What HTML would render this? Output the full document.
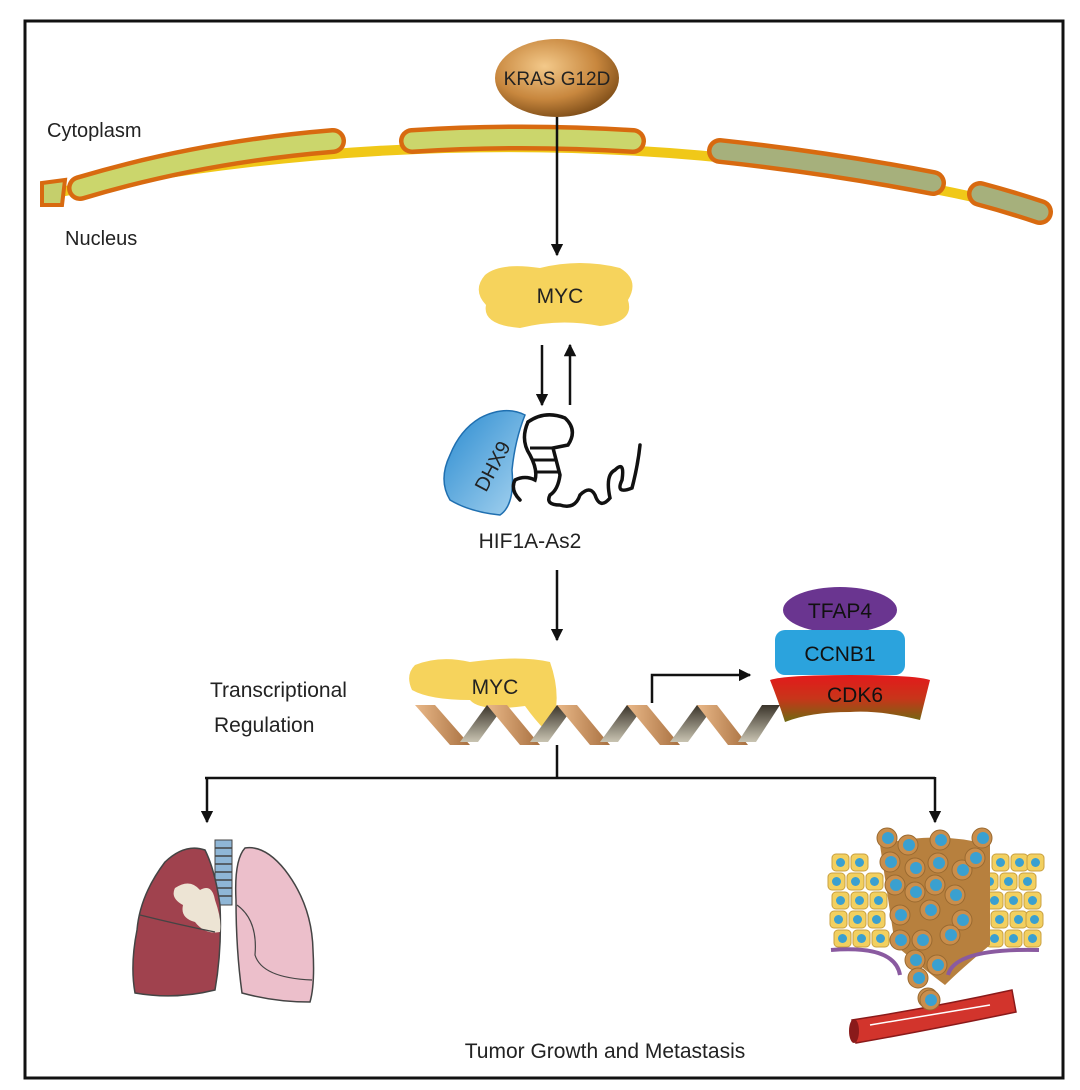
<!DOCTYPE html>
<html><head><meta charset="utf-8"><style>
html,body{margin:0;padding:0;background:#fff;}
svg{display:block;font-family:"Liberation Sans",Arial,sans-serif;}
</style></head><body>
<svg width="1080" height="1090" viewBox="0 0 1080 1090" xmlns="http://www.w3.org/2000/svg">
<defs>
<radialGradient id="kras" cx="0.4" cy="0.35" r="0.7"><stop offset="0" stop-color="#f3c98a"/><stop offset="0.6" stop-color="#c8873e"/><stop offset="1" stop-color="#7a4a16"/></radialGradient>
<linearGradient id="cdk" x1="0" y1="0" x2="0" y2="1"><stop offset="0" stop-color="#e3191b"/><stop offset="0.5" stop-color="#c8351a"/><stop offset="1" stop-color="#6e6a12"/></linearGradient>
<linearGradient id="dhx" x1="0" y1="0" x2="1" y2="1"><stop offset="0" stop-color="#2a8bd0"/><stop offset="1" stop-color="#a8d4f0"/></linearGradient>
<linearGradient id="rib1" x1="0" y1="0" x2="1" y2="0"><stop offset="0" stop-color="#e9b888"/><stop offset="1" stop-color="#a87040"/></linearGradient>
<linearGradient id="rib2" x1="0" y1="0" x2="0" y2="1"><stop offset="0" stop-color="#3a342a"/><stop offset="1" stop-color="#c9c4b2"/></linearGradient>
<marker id="ah" viewBox="0 0 10 10" refX="9" refY="5" markerWidth="5" markerHeight="5" orient="auto"><path d="M0,0 L10,5 L0,10 z" fill="#111"/></marker>
<g id="yc"><rect x="-8" y="-8" width="17" height="17" rx="4" fill="#f2d060" stroke="#c9a040" stroke-width="1"/><circle cx="0.5" cy="0.5" r="4.5" fill="#3aa0d0"/></g>
<g id="cc"><circle r="10" fill="#c98e4c" stroke="#9a6a30" stroke-width="1"/><circle cx="1" cy="0" r="6" fill="#3aa0d0"/></g>
</defs>
<rect x="25" y="21" width="1038" height="1057" fill="none" stroke="#111" stroke-width="3"/>

<!-- membrane -->
<path d="M45,195 Q557,90 1050,215" fill="none" stroke="#f0c818" stroke-width="10"/>
<g fill="none" stroke-linecap="round">
<path d="M80,188 Q200,152 333,141 M412,141 Q520,134 633,141 M720,151 Q830,163 933,183 M980,194 Q1010,202 1040,212" stroke="#d86a10" stroke-width="26"/>
<path d="M80,188 Q200,152 333,141 M412,141 Q520,134 633,141" stroke="#cbd66c" stroke-width="17"/>
<path d="M720,151 Q830,163 933,183 M980,194 Q1010,202 1040,212" stroke="#a6b07c" stroke-width="17"/>
</g>
<path d="M42,183 L65,180 L62,205 L42,205 Z" fill="#c5cf6c" stroke="#d86a10" stroke-width="4"/>
<text x="47" y="137" font-size="20" fill="#222">Cytoplasm</text>
<text x="65" y="245" font-size="20" fill="#222">Nucleus</text>

<ellipse cx="557" cy="78" rx="62" ry="39" fill="url(#kras)"/>
<text x="557" y="85" font-size="19" text-anchor="middle" fill="#222">KRAS G12D</text>
<line x1="557" y1="117" x2="557" y2="255" stroke="#111" stroke-width="2.5" marker-end="url(#ah)"/>

<!-- MYC 1 -->
<path d="M485,275 Q500,262 540,268 Q580,258 620,268 Q640,280 628,300 Q635,322 600,326 Q560,318 520,328 Q482,325 486,305 Q472,290 485,275 Z" fill="#f6d35c"/>
<text x="560" y="303" font-size="21" text-anchor="middle" fill="#222">MYC</text>
<line x1="542" y1="345" x2="542" y2="405" stroke="#111" stroke-width="2.5" marker-end="url(#ah)"/>
<line x1="570" y1="405" x2="570" y2="345" stroke="#111" stroke-width="2.5" marker-end="url(#ah)"/>

<!-- DHX9 + RNA -->
<path d="M480,418 Q505,405 525,415 Q515,440 512,470 Q515,505 500,515 Q470,512 450,500 Q438,480 450,455 Q460,430 480,418 Z" fill="url(#dhx)" stroke="#1f6fb0" stroke-width="1.5"/>
<text x="0" y="0" font-size="20" fill="#222" transform="translate(486,493) rotate(-62)">DHX9</text>
<path d="M528,422 Q545,410 565,418 Q578,430 568,445 L553,448 L560,475 Q558,490 550,495 Q545,505 560,505 Q575,510 580,495 Q590,485 595,495 Q600,510 610,498 Q605,475 615,470 Q625,460 622,480 Q615,495 632,488 Q638,465 640,445" fill="none" stroke="#111" stroke-width="3.5" stroke-linecap="round"/>
<path d="M528,422 Q520,440 530,455 Q538,470 535,480 Q525,475 515,480 Q510,490 520,500" fill="none" stroke="#111" stroke-width="3.5" stroke-linecap="round"/>
<g stroke="#111" stroke-width="3"><line x1="530" y1="448" x2="553" y2="448"/><line x1="533" y1="460" x2="556" y2="460"/><line x1="535" y1="472" x2="558" y2="472"/></g>
<text x="530" y="548" font-size="21" text-anchor="middle" fill="#222">HIF1A-As2</text>
<line x1="557" y1="570" x2="557" y2="640" stroke="#111" stroke-width="2.5" marker-end="url(#ah)"/>

<!-- MYC 2 -->
<path d="M415,665 Q440,655 470,662 Q520,655 550,662 Q560,690 555,715 Q555,735 545,730 Q535,720 525,706 Q480,712 470,700 Q430,700 412,690 Q405,675 415,665 Z" fill="#f6d35c"/>
<text x="495" y="694" font-size="21" text-anchor="middle" fill="#222">MYC</text>
<text x="210" y="697" font-size="21" fill="#222">Transcriptional</text>
<text x="214" y="732" font-size="21" fill="#222">Regulation</text>

<!-- DNA -->
<g>
<path d="M415,705 L435,705 L470,745 L450,745 Z" fill="url(#rib1)"/>
<path d="M460,742 L478,742 L505,705 L487,705 Z" fill="url(#rib2)"/>
<path d="M487,705 L507,705 L540,745 L520,745 Z" fill="url(#rib1)"/>
<path d="M530,742 L548,742 L575,705 L557,705 Z" fill="url(#rib2)"/>
<path d="M557,705 L577,705 L610,745 L590,745 Z" fill="url(#rib1)"/>
<path d="M600,742 L618,742 L645,705 L627,705 Z" fill="url(#rib2)"/>
<path d="M627,705 L647,705 L680,745 L660,745 Z" fill="url(#rib1)"/>
<path d="M670,742 L688,742 L715,705 L697,705 Z" fill="url(#rib2)"/>
<path d="M697,705 L717,705 L748,745 L728,745 Z" fill="url(#rib1)"/>
<path d="M738,742 L756,742 L780,705 L762,705 Z" fill="url(#rib2)"/>
</g>
<polyline points="652,703 652,675 750,675" fill="none" stroke="#111" stroke-width="2.5" marker-end="url(#ah)"/>

<ellipse cx="840" cy="610" rx="57" ry="23" fill="#6a3590"/>
<text x="840" y="618" font-size="21" text-anchor="middle" fill="#111">TFAP4</text>
<rect x="775" y="630" width="130" height="45" rx="10" fill="#2ba3dd"/>
<text x="840" y="661" font-size="21" text-anchor="middle" fill="#111">CCNB1</text>
<path d="M770,680 Q785,675 850,675 Q915,675 930,680 Q925,700 920,720 Q880,710 850,712 Q810,712 785,722 Q778,700 770,680 Z" fill="url(#cdk)"/>
<text x="855" y="702" font-size="21" text-anchor="middle" fill="#111">CDK6</text>

<!-- branches -->
<line x1="557" y1="745" x2="557" y2="778" stroke="#111" stroke-width="2.5"/>
<line x1="205" y1="778" x2="935" y2="778" stroke="#111" stroke-width="2.5"/>
<line x1="207" y1="777" x2="207" y2="822" stroke="#111" stroke-width="2.5" marker-end="url(#ah)"/>
<line x1="935" y1="777" x2="935" y2="822" stroke="#111" stroke-width="2.5" marker-end="url(#ah)"/>

<!-- lungs -->
<rect x="215" y="840" width="17" height="65" fill="#8fb6d6" stroke="#444" stroke-width="1"/>
<g stroke="#444" stroke-width="1.5"><line x1="215" y1="848" x2="232" y2="848"/><line x1="215" y1="856" x2="232" y2="856"/><line x1="215" y1="864" x2="232" y2="864"/><line x1="215" y1="872" x2="232" y2="872"/><line x1="215" y1="880" x2="232" y2="880"/><line x1="215" y1="888" x2="232" y2="888"/><line x1="215" y1="896" x2="232" y2="896"/></g>
<path d="M205,850 Q185,843 165,862 Q140,895 137,930 Q130,965 135,993 Q175,1000 215,990 Q222,950 220,905 Q215,870 205,850 Z" fill="#a0424e" stroke="#444" stroke-width="1.5"/>
<path d="M245,848 Q265,845 285,870 Q312,905 313,950 Q315,985 310,1002 Q275,1002 242,993 Q236,950 236,900 Q234,860 245,848 Z" fill="#ecbfcb" stroke="#444" stroke-width="1.5"/>
<path d="M175,888 Q190,878 200,890 Q212,883 215,900 Q222,920 220,932 Q205,935 195,922 Q180,918 183,905 Q170,898 175,888 Z" fill="#ede4d4"/>
<path d="M140,915 Q180,925 215,932" fill="none" stroke="#444" stroke-width="1.2"/>
<path d="M237,905 Q258,920 255,955 Q262,978 312,980" fill="none" stroke="#444" stroke-width="1.2"/>

<!-- tissue -->
<g>
<use href="#yc" x="840" y="862"/><use href="#yc" x="859" y="862"/><use href="#yc" x="1000" y="862"/><use href="#yc" x="1019" y="862"/><use href="#yc" x="1035" y="862"/>
<use href="#yc" x="836" y="881"/><use href="#yc" x="855" y="881"/><use href="#yc" x="874" y="881"/><use href="#yc" x="970" y="881"/><use href="#yc" x="989" y="881"/><use href="#yc" x="1008" y="881"/><use href="#yc" x="1027" y="881"/>
<use href="#yc" x="840" y="900"/><use href="#yc" x="859" y="900"/><use href="#yc" x="878" y="900"/><use href="#yc" x="975" y="900"/><use href="#yc" x="994" y="900"/><use href="#yc" x="1013" y="900"/><use href="#yc" x="1032" y="900"/>
<use href="#yc" x="838" y="919"/><use href="#yc" x="857" y="919"/><use href="#yc" x="876" y="919"/><use href="#yc" x="980" y="919"/><use href="#yc" x="999" y="919"/><use href="#yc" x="1018" y="919"/><use href="#yc" x="1034" y="919"/>
<use href="#yc" x="842" y="938"/><use href="#yc" x="861" y="938"/><use href="#yc" x="880" y="938"/><use href="#yc" x="975" y="938"/><use href="#yc" x="994" y="938"/><use href="#yc" x="1013" y="938"/><use href="#yc" x="1032" y="938"/>
</g>
<path d="M880,845 Q935,830 990,845 L990,945 Q960,970 945,985 Q925,970 895,945 Z" fill="#b7803e"/>
<g>
<use href="#cc" x="887" y="838"/><use href="#cc" x="908" y="845"/><use href="#cc" x="940" y="840"/><use href="#cc" x="982" y="838"/>
<use href="#cc" x="890" y="862"/><use href="#cc" x="915" y="868"/><use href="#cc" x="938" y="863"/><use href="#cc" x="962" y="870"/><use href="#cc" x="975" y="858"/>
<use href="#cc" x="895" y="885"/><use href="#cc" x="915" y="892"/><use href="#cc" x="935" y="885"/><use href="#cc" x="955" y="895"/>
<use href="#cc" x="900" y="915"/><use href="#cc" x="930" y="910"/><use href="#cc" x="962" y="920"/>
<use href="#cc" x="900" y="940"/><use href="#cc" x="922" y="940"/><use href="#cc" x="950" y="935"/>
<use href="#cc" x="915" y="960"/><use href="#cc" x="937" y="965"/><use href="#cc" x="918" y="978"/><use href="#cc" x="928" y="998"/>
</g>
<path d="M831,950 Q895,945 900,975 M948,975 Q955,948 1039,950" fill="none" stroke="#8a5aa0" stroke-width="4"/>
<path d="M852,1020 Q930,1008 1012,990 L1016,1012 Q930,1030 856,1043 Z" fill="#d2342c" stroke="#8a1a1a" stroke-width="1.5"/>
<ellipse cx="854" cy="1031" rx="5" ry="12" fill="#8a1a1a"/>
<path d="M870,1025 Q930,1015 990,1005" fill="none" stroke="#fff" stroke-width="1.5"/>
<use href="#cc" x="930" y="1000"/>

<text x="605" y="1058" font-size="21" text-anchor="middle" fill="#222">Tumor Growth and Metastasis</text>
</svg>
</body></html>
